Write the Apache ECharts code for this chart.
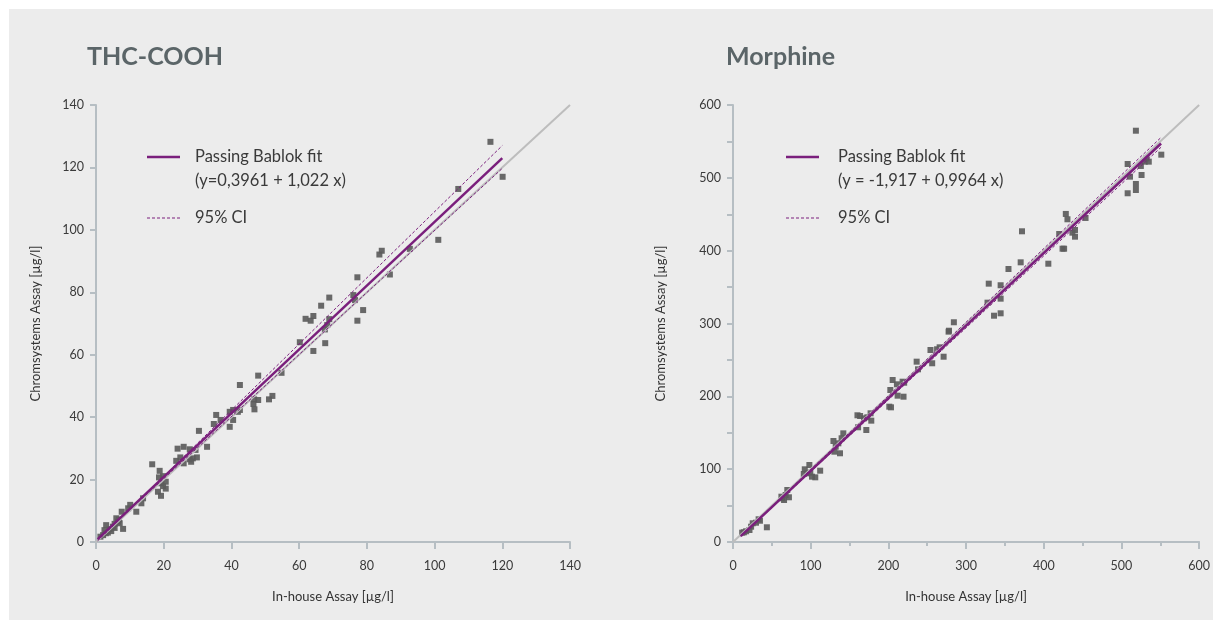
<!DOCTYPE html>
<html><head><meta charset="utf-8">
<script src="https://cdn.jsdelivr.net/npm/echarts@6/dist/echarts.min.js"></script>
<style>
html,body{margin:0;padding:0;background:#ffffff;}
#bg{position:absolute;left:9px;top:9px;width:1204px;height:611px;background:#ececec;}
#c{position:absolute;left:0;top:0;width:1213px;height:620px;}
</style></head>
<body><div id="bg"></div><div id="c"></div>
<script>
// ---- data ----
const titles = ['THC-COOH', 'Morphine'];
const xAxisName = 'In-house Assay [µg/l]';
const yAxisName = 'Chromsystems Assay [µg/l]';
const fitLabels = ['Passing Bablok fit', '95% CI'];
const fitEquations = ['(y=0,3961 + 1,022 x)', '(y = -1,917 + 0,9964 x)'];

const thcPoints = [
 [116.5,128.2],[120.1,117.0],[107.0,113.1],[101.1,96.8],[92.7,93.9],[84.4,93.3],[83.7,92.1],[86.8,85.7],
 [77.2,84.8],[76.0,79.1],[76.5,77.5],[78.9,74.3],[77.2,70.9],[68.9,78.3],[66.5,75.7],[64.2,72.4],
 [63.4,70.9],[61.9,71.5],[68.9,71.4],[68.3,69.5],[67.6,68.1],[67.7,63.7],[64.2,61.2],[60.2,64.0],
 [54.8,54.2],[47.9,53.3],[52.1,46.8],[51.1,45.7],[46.7,45.7],[47.9,45.5],[46.5,44.2],[46.8,42.5],
 [42.5,50.3],[42.5,42.3],[35.5,40.7],[34.8,37.8],[36.8,39.1],[39.5,41.7],[40.5,42.3],[41.9,41.7],
 [40.5,39.1],[39.5,36.9],[30.4,35.6],[32.8,30.5],[24.1,29.9],[25.9,30.5],[27.7,29.7],[23.7,26.0],
 [24.9,27.1],[25.9,25.2],[27.7,26.5],[28.6,26.8],[28.1,25.7],[29.8,27.1],[29.4,29.5],[16.6,24.9],
 [18.8,22.8],[19.8,21.1],[18.6,20.7],[20.6,19.3],[19.3,18.8],[19.8,17.9],[20.6,17.1],[18.3,16.1],
 [19.2,14.8],[13.9,14.0],[13.4,12.4],[11.9,9.7],[9.5,10.8],[10.1,11.9],[7.6,9.7],[8.0,4.2],
 [6.0,7.6],[6.5,6.5],[5.5,5.8],[5.0,4.9],[4.0,4.1],[3.0,5.4],[2.9,2.8],[2.1,2.2],[1.3,1.7],
 [4.5,3.5],[3.5,3.0],[5.5,4.5],[7.0,6.0],[2.5,3.8],[6.8,7.2]
];
const thcIdentity = [[0,0],[140,140]];
const thcFit = [[0.5,0.91],[120,123.0]];
const thcCiUpper = [[0.5,0.4],[120,127.0]];
const thcCiLower = [[0.5,0.9],[120,119.7]];

const morPoints = [
 [14,13.3],[16.9,14.7],[11.8,12.8],[23.3,21],[25.4,25.7],[29.6,26.5],[33,31.2],[34.7,29.2],[21.2,16.5],
 [43.6,20.2],[63.6,60],[67.8,64.5],[69.9,71.4],[72,61.4],[65.7,57.7],[62.3,62.2],[92.4,99.8],[98.3,105.7],
 [95.3,94.3],[101.7,89.7],[105.9,88.8],[112.2,97.9],[99.5,95.2],[91.1,93.4],[129.3,138.7],[135.6,135.5],
 [142,149.2],[139.8,142.4],[130.5,124],[137.7,121.8],[132.2,130.9],[160.2,174],[163.6,173],[161,157.5],
 [168.7,169.8],[172.9,171.2],[177.1,176.7],[178,166.6],[171.6,153.8],[205.5,222.4],[202.5,208.7],[211,216.5],
 [211.9,200.9],[219.5,199.5],[220.3,218.7],[201.2,185.8],[203.4,184.9],[218.3,220.1],[236.4,247.6],[238.1,237.1],
 [254.2,263.6],[256.4,245.4],[266,267.3],[271.1,254.4],[262.7,264.6],[277.5,288.8],[284.3,301.7],[278,290.1],
 [329.2,354.7],[344.5,352.5],[327.6,328.6],[344.5,334.1],[344.5,314],[336,310.7],[354.6,374.8],[370.3,384],
 [372,426.6],[405.9,382.1],[428.4,450.4],[430.5,443.1],[419.9,422.9],[436.9,424.7],[440.2,428.4],[440.2,419.2],
 [453.8,444.9],[424.2,402.7],[426.2,402.7],[508,519],[511,501.6],[525,516.3],[530,522.2],[535.2,522.2],
 [525.9,503.9],[518.6,491.5],[518.6,483.3],[508,478.8],[532.2,526.8],[518.6,564.7],[551.3,531.8]
];
const morIdentity = [[0,0],[600,600]];
const morFit = [[10,8.05],[551,547.1]];
const morCiUpper = [[10,8.5],[551,555.5]];
const morCiLower = [[10,7.6],[551,542.0]];

// ---- styles ----
const FONT = 'Lato, "Open Sans", sans-serif';
const AXIS = '#b6bec3';
const PURPLE = '#7a1f7c';
const POINT = '#5c5c5c';
const IDLINE = '#bdbdbd';

function xAx(gi, max, interval, minor) {
  return {
    gridIndex: gi, type: 'value', min: 0, max: max, interval: interval,
    splitLine: {show: false},
    axisLine: {show: true, onZero: false, lineStyle: {color: AXIS, width: 2}},
    axisTick: {show: true, length: 7, lineStyle: {color: AXIS, width: 2}},
    minorTick: {show: !!minor, splitNumber: 2, length: 4, lineStyle: {color: AXIS, width: 2}},
    axisLabel: {margin: 17, color: '#3a3a3a', fontSize: 12.5, fontFamily: FONT},
    name: xAxisName, nameLocation: 'middle', nameGap: 48,
    nameTextStyle: {color: '#333', fontSize: 13, fontFamily: FONT}
  };
}
function yAx(gi, max, interval, gap, labelStep) {
  return {
    gridIndex: gi, type: 'value', min: 0, max: max, interval: interval,
    splitLine: {show: false},
    axisLine: {show: true, onZero: false, lineStyle: {color: AXIS, width: 2}},
    axisTick: {show: true, length: 6, lineStyle: {color: AXIS, width: 2}},
    axisLabel: {margin: 12, color: '#3a3a3a', fontSize: 12.5, fontFamily: FONT,
      formatter: v => (v % labelStep === 0 ? String(v) : '')},
    name: yAxisName, nameLocation: 'middle', nameGap: gap,
    nameTextStyle: {color: '#333', fontSize: 13, fontFamily: FONT}
  };
}
function scatter(gi, data) {
  return {type: 'scatter', xAxisIndex: gi, yAxisIndex: gi, data: data, symbol: 'rect',
    symbolSize: 6, itemStyle: {color: POINT, opacity: 0.92}, z: 2, silent: true};
}
function line(gi, data, color, width, type) {
  return {type: 'line', xAxisIndex: gi, yAxisIndex: gi, data: data, showSymbol: false,
    symbol: 'none', lineStyle: {color: color, width: width, type: type}, z: 3, silent: true, animation: false};
}
function legendGraphic(x0, textX, eq) {
  const ts = {fill: '#3a3a3a', fontSize: 16.5, fontFamily: FONT};
  return [
    {type: 'line', shape: {x1: x0, y1: 157, x2: x0 + 33, y2: 157}, style: {stroke: PURPLE, lineWidth: 2.5}},
    {type: 'text', left: textX, top: 148, style: Object.assign({text: fitLabels[0]}, ts)},
    {type: 'text', left: textX, top: 172, style: Object.assign({text: eq}, ts)},
    {type: 'line', shape: {x1: x0, y1: 218, x2: x0 + 33, y2: 218}, style: {stroke: PURPLE, lineWidth: 1, lineDash: [3, 2]}},
    {type: 'text', left: textX, top: 209, style: Object.assign({text: fitLabels[1]}, ts)}
  ];
}

const chart = echarts.init(document.getElementById('c'), null, {renderer: 'canvas'});
chart.setOption({
  backgroundColor: 'transparent',
  animation: false,
  title: [
    {text: titles[0], left: 82, top: 39, textStyle: {color: '#5b6568', fontSize: 25, fontWeight: 'bold', fontFamily: FONT}},
    {text: titles[1], left: 721, top: 39, textStyle: {color: '#5b6568', fontSize: 25, fontWeight: 'bold', fontFamily: FONT}}
  ],
  grid: [
    {left: 96, top: 105, width: 474, height: 437},
    {left: 733, top: 105, width: 472, height: 437}
  ],
  xAxis: [xAx(0, 140, 20, false), xAx(1, 600, 100, true)],
  yAxis: [yAx(0, 140, 20, 54, 20), yAx(1, 600, 50, 66, 100)],
  series: [
    line(0, thcIdentity, IDLINE, 2, 'solid'),
    line(1, morIdentity, IDLINE, 2, 'solid'),
    scatter(0, thcPoints),
    scatter(1, morPoints),
    line(0, thcFit, PURPLE, 2.5, 'solid'),
    line(0, thcCiUpper, PURPLE, 1, [3, 2]),
    line(0, thcCiLower, PURPLE, 1, [3, 2]),
    line(1, morFit, PURPLE, 2.5, 'solid'),
    line(1, morCiUpper, PURPLE, 1, [3, 2]),
    line(1, morCiLower, PURPLE, 1, [3, 2])
  ],
  graphic: legendGraphic(147, 195, fitEquations[0]).concat(legendGraphic(786, 838, fitEquations[1]))
});
</script>
</body></html>
